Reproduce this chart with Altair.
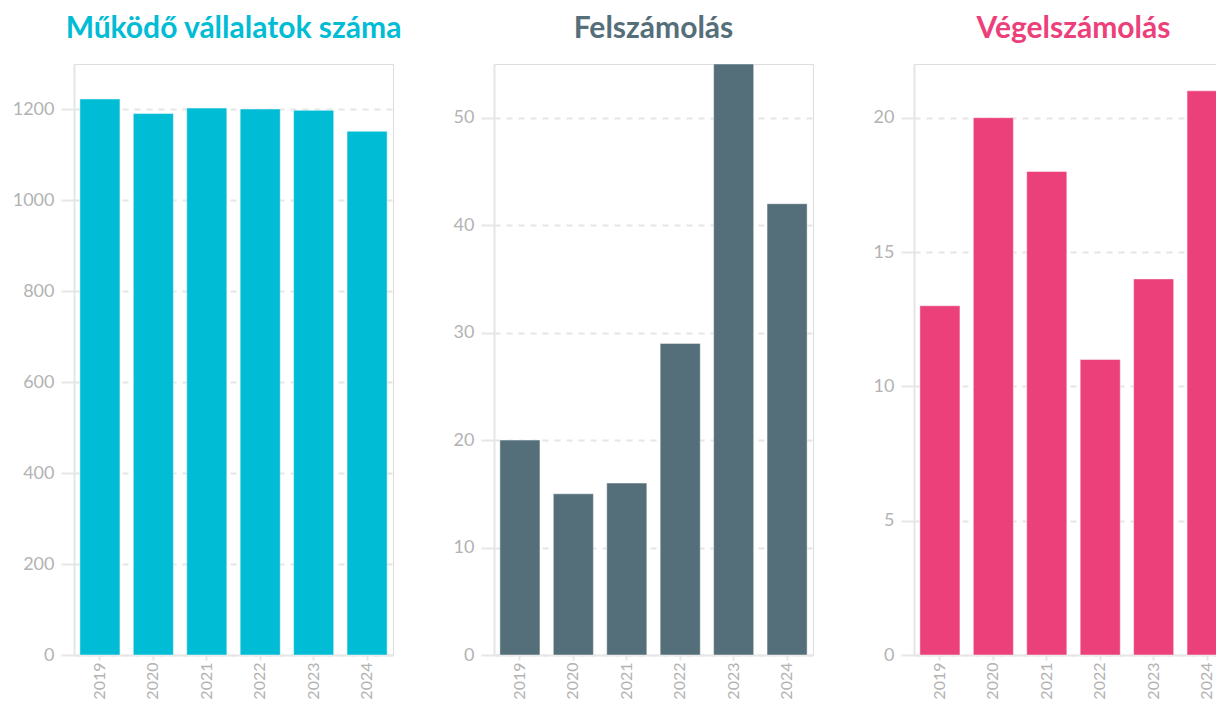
import altair as alt
import pandas as pd

years = ["2019", "2020", "2021", "2022", "2023", "2024"]
mukodo = [1223, 1191, 1203, 1201, 1198, 1152]
felszamolas = [20, 15, 16, 29, 55, 42]
vegelszamolas = [13, 20, 18, 11, 14, 21]

titles = ["Működő vállalatok száma", "Felszámolás", "Végelszámolás"]
colors = ["#00BCD4", "#546E7A", "#EC407A"]
domains = [[0, 1300], [0, 55], [0, 22]]
tick_values = [
    [0, 200, 400, 600, 800, 1000, 1200],
    [0, 10, 20, 30, 40, 50],
    [0, 5, 10, 15, 20],
]

FONT = "Lato"
GRID = "#e6e6e6"
LABEL = "#b3b3b3"


def panel(vals, title, color, dom, tv):
    df = pd.DataFrame({"ev": years, "ertek": vals})
    return (
        alt.Chart(
            df,
            title=alt.Title(
                title, color=color, fontSize=30, fontWeight="bold", font=FONT,
                anchor="middle", offset=20,
            ),
        )
        .mark_bar(color=color, stroke="white", strokeWidth=1, strokeOpacity=0.45)
        .encode(
            x=alt.X(
                "ev:O", sort=years, title=None,
                scale=alt.Scale(paddingInner=0.25, paddingOuter=0.11),
                axis=alt.Axis(
                    labelAngle=-90, labelFont=FONT, labelFontSize=16,
                    labelColor=LABEL, tickColor=GRID, domainColor=GRID,
                    tickSize=5, tickWidth=2, domainWidth=2, labelPadding=2, grid=False,
                ),
            ),
            y=alt.Y(
                "ertek:Q", title=None,
                scale=alt.Scale(domain=dom, nice=False, zero=True),
                axis=alt.Axis(
                    values=tv, format="d", labelFont=FONT, labelFontSize=18,
                    labelColor=LABEL, tickColor=GRID, tickSize=13, tickWidth=2,
                    domainColor=GRID, domainWidth=2, labelPadding=7, grid=True,
                    gridColor=GRID, gridDash=[6, 6], gridWidth=2,
                    minExtent=62, maxExtent=62,
                ),
            ),
        )
        .properties(width=319, height=591)
    )


charts = [
    panel(mukodo, titles[0], colors[0], domains[0], tick_values[0]),
    panel(felszamolas, titles[1], colors[1], domains[1], tick_values[1]),
    panel(vegelszamolas, titles[2], colors[2], domains[2], tick_values[2]),
]

chart = (
    alt.hconcat(*charts, spacing=101, bounds="flush")
    .properties(padding={"left": 3, "top": 5, "right": -18, "bottom": 0})
    .configure_view(stroke=None)
    .configure(background="white")
)

chart.save("out.html", embed_options={"renderer": "svg", "actions": False})
